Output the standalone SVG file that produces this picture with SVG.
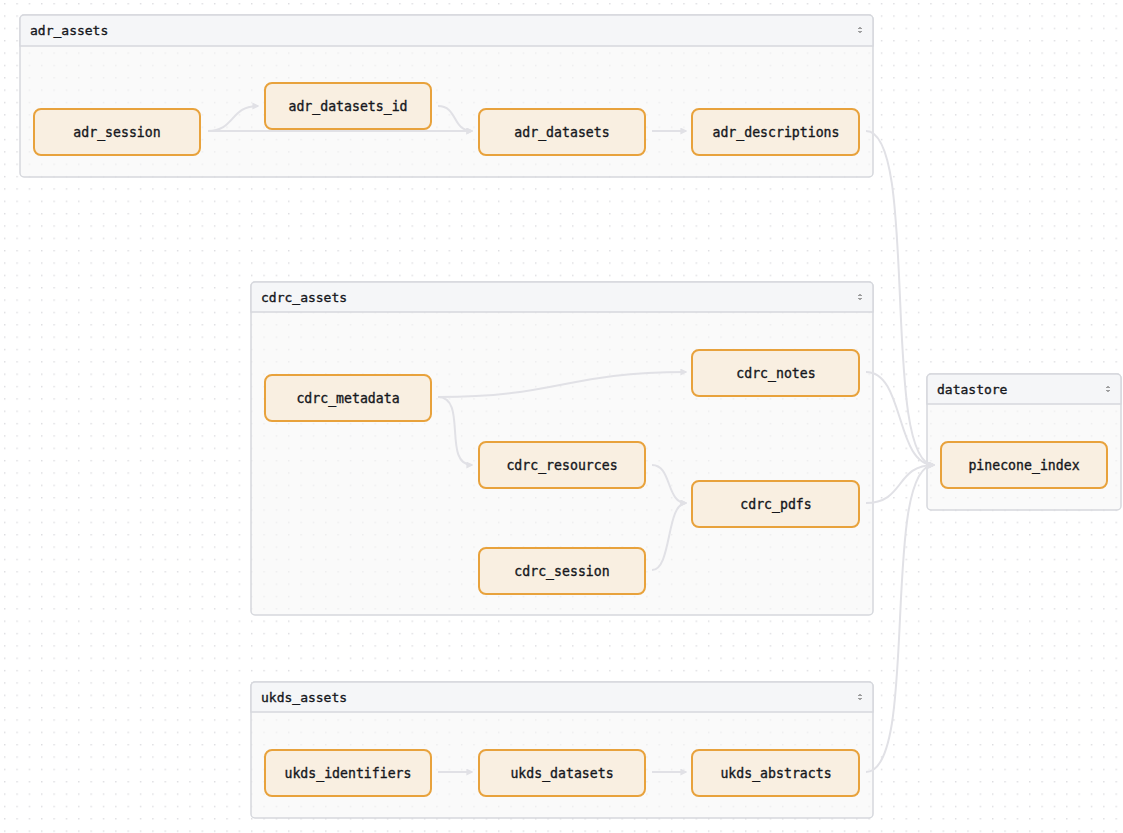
<svg xmlns="http://www.w3.org/2000/svg" width="1123" height="833" viewBox="0 0 1123 833">
<style>
.bg{fill:#ffffff}
.grp-body{fill:#f6f6f7;fill-opacity:0.6;stroke:#d6d8dd;stroke-width:1.5}
.grp-head{fill:#f5f6f8;stroke:#d6d8dd;stroke-width:1.5}
.grp-title{font-family:"DejaVu Sans Mono","Liberation Mono",monospace;font-size:13px;fill:#15171c;stroke:#15171c;stroke-width:0.35}
.node rect{fill:#f9efe1;stroke:#e8a23c;stroke-width:2}
.node text{font-family:"DejaVu Sans Mono","Liberation Mono",monospace;font-size:13.2px;fill:#15171c;stroke:#15171c;stroke-width:0.35;text-anchor:middle;dominant-baseline:central}
.edge{fill:none;stroke:#e1e1e6;stroke-width:2;marker-end:url(#arr)}
.icon{fill:none;stroke:#444;stroke-width:1}
</style>
<defs>
<pattern id="dots" x="4" y="3" width="12.35" height="12.35" patternUnits="userSpaceOnUse">
<rect x="0" y="0" width="1.4" height="1.4" fill="#dcdcdf"/>
</pattern>
<marker id="arr" viewBox="0 0 10 10" refX="8" refY="5" markerWidth="7" markerHeight="7" orient="auto" markerUnits="userSpaceOnUse">
<path d="M0,0 L10,5 L0,10 Z" fill="#e1e1e6"/>
</marker>
</defs>
<rect class="bg" x="0" y="0" width="1123" height="833"/>
<rect x="0" y="0" width="1123" height="833" fill="url(#dots)"/>

<g id="group-adr_assets">
<rect class="grp-body" x="20" y="15" width="853" height="162" rx="4"/>
<path class="grp-head" d="M24,15 H869 A4,4 0 0 1 873,19 V46 H20 V19 A4,4 0 0 1 24,15 Z"/>
<text class="grp-title" x="30" y="35">adr_assets</text>
<path class="icon" d="M858.5,29 l1.5,-1.5 l1.5,1.5 M858.5,31 l1.5,1.5 l1.5,-1.5"/>
</g>
<g id="group-cdrc_assets">
<rect class="grp-body" x="251" y="282" width="622" height="333" rx="4"/>
<path class="grp-head" d="M255,282 H869 A4,4 0 0 1 873,286 V312 H251 V286 A4,4 0 0 1 255,282 Z"/>
<text class="grp-title" x="261" y="302">cdrc_assets</text>
<path class="icon" d="M858.5,296 l1.5,-1.5 l1.5,1.5 M858.5,298 l1.5,1.5 l1.5,-1.5"/>
</g>
<g id="group-ukds_assets">
<rect class="grp-body" x="251" y="682" width="622" height="136" rx="4"/>
<path class="grp-head" d="M255,682 H869 A4,4 0 0 1 873,686 V712 H251 V686 A4,4 0 0 1 255,682 Z"/>
<text class="grp-title" x="261" y="702">ukds_assets</text>
<path class="icon" d="M858.5,696 l1.5,-1.5 l1.5,1.5 M858.5,698 l1.5,1.5 l1.5,-1.5"/>
</g>
<g id="group-datastore">
<rect class="grp-body" x="927" y="374" width="194" height="136" rx="4"/>
<path class="grp-head" d="M931,374 H1117 A4,4 0 0 1 1121,378 V404 H927 V378 A4,4 0 0 1 931,374 Z"/>
<text class="grp-title" x="937" y="394">datastore</text>
<path class="icon" d="M1106.5,388 l1.5,-1.5 l1.5,1.5 M1106.5,390 l1.5,1.5 l1.5,-1.5"/>
</g>

<g id="connectors">
<path class="edge" d="M208,131 C235,131 230,106 258,106"/>
<path class="edge" d="M208,131 L472,131"/>
<path class="edge" d="M438,106 C458,106 452,131 472,131"/>
<path class="edge" d="M652,131 L686,131"/>
<path class="edge" d="M866,131 C920,131 880,465 934,465"/>
<path class="edge" d="M866,372 C905,372 895,465 934,465"/>
<path class="edge" d="M866,503 C905,503 895,465 934,465"/>
<path class="edge" d="M866,772 C920,772 880,465 934,465"/>
<path class="edge" d="M438,397 C560,397 565,372 686,372"/>
<path class="edge" d="M438,397 C468,397 442,465 472,465"/>
<path class="edge" d="M652,465 C672,465 666,503 686,503"/>
<path class="edge" d="M652,570 C672,570 666,503 686,503"/>
<path class="edge" d="M438,772 L472,772"/>
<path class="edge" d="M652,772 L686,772"/>
</g>

<g id="node-adr_session" class="node"><rect x="34" y="109" width="166" height="46" rx="7"/><text x="117" y="132">adr_session</text></g>
<g id="node-adr_datasets_id" class="node"><rect x="265" y="83" width="166" height="46" rx="7"/><text x="348" y="106">adr_datasets_id</text></g>
<g id="node-adr_datasets" class="node"><rect x="479" y="109" width="166" height="46" rx="7"/><text x="562" y="132">adr_datasets</text></g>
<g id="node-adr_descriptions" class="node"><rect x="692" y="109" width="167" height="46" rx="7"/><text x="776" y="132">adr_descriptions</text></g>
<g id="node-cdrc_metadata" class="node"><rect x="265" y="375" width="166" height="46" rx="7"/><text x="348" y="398">cdrc_metadata</text></g>
<g id="node-cdrc_notes" class="node"><rect x="692" y="350" width="167" height="46" rx="7"/><text x="776" y="373">cdrc_notes</text></g>
<g id="node-cdrc_resources" class="node"><rect x="479" y="442" width="166" height="46" rx="7"/><text x="562" y="465">cdrc_resources</text></g>
<g id="node-cdrc_pdfs" class="node"><rect x="692" y="481" width="167" height="46" rx="7"/><text x="776" y="504">cdrc_pdfs</text></g>
<g id="node-cdrc_session" class="node"><rect x="479" y="548" width="166" height="46" rx="7"/><text x="562" y="571">cdrc_session</text></g>
<g id="node-ukds_identifiers" class="node"><rect x="265" y="750" width="166" height="46" rx="7"/><text x="348" y="773">ukds_identifiers</text></g>
<g id="node-ukds_datasets" class="node"><rect x="479" y="750" width="166" height="46" rx="7"/><text x="562" y="773">ukds_datasets</text></g>
<g id="node-ukds_abstracts" class="node"><rect x="692" y="750" width="167" height="46" rx="7"/><text x="776" y="773">ukds_abstracts</text></g>
<g id="node-pinecone_index" class="node"><rect x="941" y="442" width="166" height="46" rx="7"/><text x="1024" y="465">pinecone_index</text></g>
</svg>
